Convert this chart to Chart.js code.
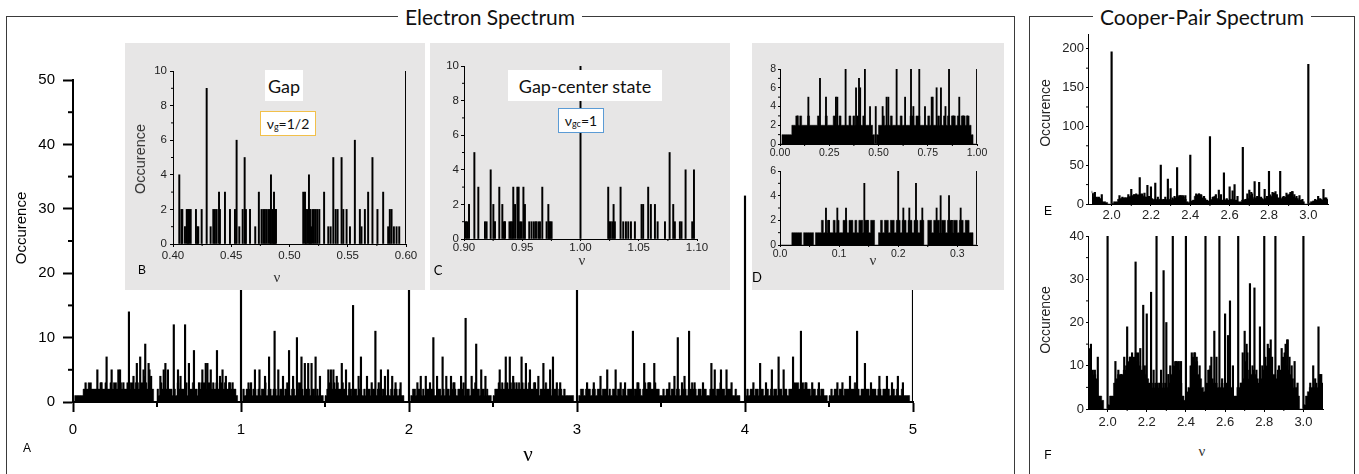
<!DOCTYPE html>
<html>
<head>
<meta charset="utf-8">
<script src="https://cdn.jsdelivr.net/npm/chart.js@4.4.1/dist/chart.umd.min.js"></script>
<style>
  body { margin: 0; background: #fff; width: 1359px; height: 474px; overflow: hidden; position: relative;
         font-family: "Liberation Sans", Arial, sans-serif; color: #000; }
  canvas { position: absolute; }
  .frame { position: absolute; border: 1px solid #3a3a3a; border-bottom: none; }
  .ftitle { position: absolute; background: #fff; padding: 0 7px; font-family: Lato, "Open Sans", sans-serif;
            font-size: 21px; line-height: 24px; transform: translate(-50%, -50%); white-space: nowrap; color: #111; }
  .inset { position: absolute; background: #e7e6e6; }
  .lbl { position: absolute; transform: translate(-50%, -50%); white-space: nowrap; }
  .rot { position: absolute; transform: translate(-50%, -50%) rotate(-90deg); white-space: nowrap; }
  .nu { font-family: "Liberation Serif", "DejaVu Serif", serif; }
  .note { position: absolute; background: #fff; font-family: Lato, "Open Sans", sans-serif; color: #111;
          display: flex; align-items: center; justify-content: center; box-sizing: border-box; }
  .note sub { font-size: 9px; position: relative; top: 3px; vertical-align: baseline; }
</style>
</head>
<body>
<div class="frame" style="left:6px;top:16px;width:1007px;height:470px"></div>
<div class="ftitle" style="left:490px;top:17px">Electron Spectrum</div>
<div class="frame" style="left:1029px;top:16px;width:324px;height:470px"></div>
<div class="ftitle" style="left:1202px;top:17px">Cooper-Pair Spectrum</div>

<canvas id="cMain" width="930" height="414" style="left:0;top:60px"></canvas>

<div class="inset" style="left:125px;top:43px;width:300px;height:247px"></div>
<div class="inset" style="left:430px;top:43px;width:300px;height:247px"></div>
<div class="inset" style="left:752px;top:43px;width:252px;height:247px"></div>

<canvas id="cGap" width="300" height="247" style="left:125px;top:43px"></canvas>
<canvas id="cCenter" width="300" height="247" style="left:430px;top:43px"></canvas>
<canvas id="cFull" width="252" height="107" style="left:752px;top:55px"></canvas>
<canvas id="cThird" width="252" height="110" style="left:752px;top:160px"></canvas>
<canvas id="cPairE" width="320" height="200" style="left:1030px;top:25px"></canvas>
<canvas id="cPairF" width="320" height="215" style="left:1030px;top:225px"></canvas>

<div class="note" style="left:265px;top:70px;width:38px;height:31px;font-size:18px">Gap</div>
<div class="note" style="left:260px;top:111px;width:56px;height:25px;border:1.5px solid #f2c04a;font-size:14px">ν<sub>g</sub>=1/2</div>
<div class="note" style="left:508px;top:70px;width:154px;height:31px;font-size:18px">Gap-center state</div>
<div class="note" style="left:558px;top:108px;width:46px;height:25px;border:1.5px solid #5b9bd5;font-size:14px">ν<sub>gc</sub>=1</div>

<div class="rot" style="left:20px;top:228px;font-size:15px">Occurence</div>
<div class="rot" style="left:140px;top:159px;font-size:14.5px;color:#333">Occurence</div>
<div class="rot" style="left:1045px;top:113px;font-size:14px;color:#222">Occurence</div>
<div class="rot" style="left:1045px;top:320px;font-size:14px;color:#222">Occurence</div>

<div class="lbl nu" style="left:528px;top:454px;font-size:21px">ν</div>
<div class="lbl nu" style="left:277px;top:277px;font-size:15px;color:#333">ν</div>
<div class="lbl nu" style="left:582px;top:260px;font-size:15px;color:#333">ν</div>
<div class="lbl nu" style="left:873px;top:260px;font-size:15px;color:#333">ν</div>
<div class="lbl nu" style="left:1202px;top:451px;font-size:15px;color:#333">ν</div>

<div class="lbl" style="left:27px;top:448px;font-size:12px">A</div>
<div class="lbl" style="left:142px;top:270px;font-size:12px">B</div>
<div class="lbl" style="left:438px;top:270px;font-size:13px;font-family:Lato,sans-serif">C</div>
<div class="lbl" style="left:757px;top:277px;font-size:13px;font-family:Lato,sans-serif">D</div>
<div class="lbl" style="left:1048px;top:211px;font-size:12px">E</div>
<div class="lbl" style="left:1048px;top:455px;font-size:12px">F</div>

<script>
// ---- panel A : electron spectrum, 0 <= nu <= 5, bins of 0.01 ----
const mainBaseStart = 0;
const mainBaseStep = 0.01;
const mainBase = [
  0,0,1,1,1,1,1,2,3,2, 3,3,2,2,2,2,2,3,2,2, 3,2,2,3,2,3,3,2,2,3, 2,2,2,3,2,3,3,2,3,3, 2,3,3,4,3,2,3,2,2,0,
  0,2,1,3,2,2,2,1,2,2, 1,2,1,3,2,2,2,2,3,1, 2,2,3,2,2,1,2,3,3,3, 2,3,3,2,3,2,3,2,3,3, 2,3,2,2,3,2,2,2,1,0,
  0,0,2,1,2,3,2,1,2,2, 1,2,1,2,2,3,1,2,2,1, 2,2,1,1,2,2,1,2,3,2, 1,2,2,1,2,3,3,2,1,2, 2,2,1,2,2,1,2,1,1,1,
  0,1,2,3,3,2,3,2,3,2, 2,3,2,2,1,2,2,1,2,2, 1,2,2,1,2,1,2,2,1,2, 2,1,2,2,1,2,2,1,2,1, 2,1,2,2,1,2,1,1,0,0,
  0,0,1,2,2,1,2,2,1,2, 1,2,2,1,2,2,1,1,2,2, 1,2,1,2,2,1,2,3,2,1, 2,2,2,3,1,2,2,1,2,2, 3,2,2,1,2,2,1,2,1,1,
  0,1,2,2,3,2,3,2,3,3, 2,3,2,3,2,2,3,2,3,2, 3,2,3,2,2,3,2,2,1,2, 2,2,3,2,2,1,2,2,2,1, 2,2,1,2,1,1,1,1,1,0,
  0,0,1,2,2,1,2,2,2,1, 2,2,1,2,2,1,2,2,2,1, 2,1,2,2,1,2,2,1,2,2, 1,2,2,2,1,2,2,3,2,1, 2,3,2,3,3,2,2,3,2,2,
  1,1,2,1,2,2,1,2,2,1, 2,2,1,2,2,2,1,2,2,3, 2,2,1,2,2,1,2,2,1,1, 2,2,2,1,2,2,3,2,2,1, 2,2,2,1,1,2,1,1,0,0,
  0,1,2,1,2,2,1,2,2,1, 2,2,1,2,2,1,2,1,2,2, 1,2,2,1,2,2,1,2,2,2, 3,3,3,2,3,3,2,3,2,2, 1,2,2,1,2,1,2,2,1,1,
  0,1,2,1,2,2,1,2,2,1, 2,2,2,1,2,2,3,2,2,1, 2,2,1,2,2,1,2,2,2,1, 2,2,1,2,2,1,2,1,2,2, 1,2,1,1,2,1,1,1,1,0
];
const mainSpikeNu = [
  0.145,0.17,0.20,0.23,0.27,0.28,0.30,0.333,0.36,0.38,0.40,0.42,0.43,0.45,0.455,0.465,
  0.52,0.54,0.55,0.565,0.60,0.625,0.64,0.667,0.69,0.72,0.75,0.77,0.79,0.80,0.82,0.857,0.875,0.89,0.91,0.93,0.95,1.0,
  1.06,1.083,1.11,1.143,1.167,1.20,1.222,1.25,1.286,1.31,1.333,1.36,1.38,1.40,1.42,1.444,1.47,
  1.52,1.535,1.55,1.57,1.60,1.625,1.645,1.667,1.70,1.714,1.75,1.778,1.80,1.82,1.833,1.857,1.875,1.90,1.92,1.95,2.0,
  2.05,2.07,2.10,2.125,2.145,2.167,2.20,2.222,2.25,2.27,2.31,2.337,2.373,2.40,2.43,2.455,
  2.54,2.576,2.60,2.62,2.64,2.67,2.696,2.72,2.75,2.77,2.80,2.84,2.857,2.88,2.90,3.0,
  3.06,3.10,3.14,3.18,3.23,3.26,3.286,3.333,3.36,3.40,3.43,3.46,
  3.55,3.58,3.60,3.625,3.64,3.667,3.70,3.75,3.80,3.82,3.857,3.89,3.92,4.0,
  4.05,4.09,4.125,4.16,4.20,4.23,4.286,4.333,4.36,4.40,4.44,
  4.55,4.58,4.625,4.667,4.714,4.75,4.80,4.845,4.875,4.91,4.94,5.0
];
const mainSpikeCount = [
  5,3,7,5,5,5,3,14,4,6,7,5,9,6,5,4,
  4,5,6,5,12,5,4,12,6,8,3,5,6,6,5,8,4,5,4,3,3,50,
  3,5,5,4,7,11,5,4,8,4,10,7,6,6,6,7,4,
  5,5,5,4,6,5,3,15,4,7,4,3,11,3,5,4,5,4,3,3,50,
  3,4,4,3,10,4,7,4,4,3,4,13,4,9,5,4,
  5,7,7,4,3,7,6,5,3,4,6,5,7,3,3,50,
  3,3,4,5,5,3,3,11,3,6,3,6,
  3,4,10,3,4,11,3,3,6,5,5,5,3,32,
  3,6,3,5,7,5,7,11,3,3,3,
  3,3,4,11,6,3,4,4,3,4,3,50
];
const mainNuTicks = [0, 1, 2, 3, 4, 5];
const mainCountTicks = [0, 10, 20, 30, 40, 50];

// ---- panel B : gap around nu = 1/2 ----
const gapNu = [
  0.4054,0.4072,0.4080,0.4103,0.4118,0.4129,0.4140,0.4152,0.4197,0.4209,0.4217,0.4246,0.4289,0.4323,
  0.4346,0.4360,0.4375,0.4395,0.4403,0.4446,0.4489,0.4532,0.4546,0.4569,0.4598,0.4615,0.4626,0.4661,
  0.4706,0.4737,0.4760,0.4775,0.4789,0.4803,0.4818,0.4832,0.4841,0.4852,0.4861,0.4867,0.4875,0.4884,
  0.5118,0.5133,0.5141,0.5153,0.5167,0.5176,0.5185,0.5196,0.5210,0.5225,0.5239,0.5256,0.5297,0.5333,
  0.5353,0.5376,0.5396,0.5413,0.5447,0.5462,0.5490,0.5519,0.5561,0.5604,0.5618,0.5647,0.5675,0.5712,
  0.5755,0.5804,0.5847,0.5861,0.5876,0.5896,0.5919,0.5942,0.6000
];
const gapCount = [
  4,2,2,1,2,2,2,2,2,1,1,2,9,1,
  2,2,2,3,2,3,2,2,6,1,2,5,2,2,
  1,3,2,2,2,2,2,2,4,2,2,3,2,2,
  3,3,2,2,4,2,1,2,2,2,2,2,3,1,
  1,5,2,2,5,2,2,1,6,2,1,2,3,5,
  2,3,1,2,2,1,1,1,10
];
const gapNuTicks = [0.40, 0.45, 0.50, 0.55, 0.60];
const gapCountTicks = [0, 2, 4, 6, 8, 10];

// ---- panel C : gap-center state nu = 1 ----
const centerNu = [
  0.9017,0.9029,0.9043,0.9089,0.9123,0.9180,0.9194,0.9229,0.9252,0.9266,0.9303,0.9329,0.9343,0.9352,
  0.9390,0.9403,0.9415,0.9423,0.9438,0.9458,0.9469,0.9481,0.9495,0.9510,0.9523,0.9560,0.9580,0.9600,
  0.9618,0.9638,0.9652,0.9672,0.9709,0.9724,0.9732,0.9741,0.9752,1.0000,
  1.0238,1.0247,1.0258,1.0273,1.0284,1.0295,1.0344,1.0367,1.0390,1.0410,1.0433,1.0467,1.0524,1.0538,
  1.0581,1.0604,1.0639,1.0662,1.0725,1.0765,1.0796,1.0810,1.0853,1.0867,1.0902,1.0959,1.0974
];
const centerCount = [
  1,1,2,5,3,1,1,4,2,1,3,2,1,1,
  1,1,1,3,2,3,3,1,1,3,2,1,1,1,
  1,1,1,3,1,2,1,1,1,10,
  3,1,1,1,2,1,3,1,1,1,1,1,2,2,
  3,2,2,1,1,5,2,1,1,1,4,1,4
];
const centerNuTicks = [0.90, 0.95, 1.00, 1.05, 1.10];
const centerCountTicks = [0, 2, 4, 6, 8, 10];

// ---- panel D top : 0 <= nu <= 1, bins of 0.01 ----
const fullBaseStart = 0;
const fullBaseStep = 0.01;
const fullBase = [
  0,0,1,1,1,1,1,2,2,3, 2,3,2,2,2,3,2,2,2,2, 3,2,2,2,3,2,2,2,3,2, 2,3,2,2,2,2,3,2,3,2, 3,2,2,3,2,2,2,2,1,0,
  1,2,2,3,2,2,2,3,2,2, 2,2,3,2,2,2,2,3,3,2, 3,3,2,2,2,2,3,2,2,2, 2,3,2,2,3,2,3,2,3,3, 2,3,2,3,3,2,3,2,1,0
];
const fullSpikeNu = [0.09,0.144,0.203,0.2335,0.284,0.291,0.333,0.386,0.401,0.407,0.431,0.457,0.486,0.521,0.541,0.55,
  0.592,0.635,0.665,0.677,0.707,0.736,0.77,0.775,0.795,0.817,0.84,0.858,0.88,0.91,0.93,0.95,1.0];
const fullSpikeCount = [3,5,7,5,5,5,8,6,7,6,8,4,4,4,5,5, 8,5,8,4,8,4,5,5,6,6,4,8,3,5,3,3,8];
const fullNuTicks = [0, 0.25, 0.5, 0.75, 1];
const fullCountTicks = [0, 2, 4, 6, 8];

// ---- panel D bottom : 0 <= nu <= 1/3, bins of 1/300 ----
const thirdBaseStart = 0;
const thirdBaseStep = 1 / 300;
const thirdBase = [
  0,0,0,0,0,0,0,1,1,1, 1,1,0,1,1,1,1,1,0,1, 1,1,2,1,1,2,1,1,2,1, 2,1,1,2,2,1,2,2,1,2, 1,2,2,1,2,2,1,2,2,0,
  0,1,2,1,2,2,1,2,2,1, 2,2,1,2,2,1,2,2,1,2, 2,1,2,2,0,0,2,2,1,2, 2,2,1,2,2,1,2,2,1,2, 2,1,2,2,1,2,2,1,1,0
];
const thirdSpikeNu = [0.0778,0.083,0.097,0.1117,0.1427,0.148,0.2,0.2087,0.2188,0.2301,0.2408,0.265,0.2718,0.286,0.291,0.3057,0.3333];
const thirdSpikeCount = [3,2,3,3,5,2,6,3,3,5,3,3,4,4,2,3,6];
const thirdNuTicks = [0, 0.1, 0.2, 0.3];
const thirdCountTicks = [0, 2, 4, 6];

// ---- panels E, F : Cooper-pair spectrum, bins of 0.01 from 1.9 ----
const pairBaseStart = 1.9;
const pairBaseStep = 0.01;
const pairBase = [
  17,14,9,9,8,7,3,3,2,0, 0,1,3,3,6,7,8,8,8,9, 10,11,12,12,12,13,11,10,9,9, 8,7,6,6,5,6,6,5,6,5,
  6,5,6,8,10,11,11,9,6,3, 2,4,5,10,12,13,11,8,7,5, 4,6,9,10,7,6,6,5,5,6, 5,6,6,5,5,3,3,5,5,6,
  7,11,9,7,8,9,8,7,6,7, 9,12,10,11,9,8,8,7,8,9, 12,13,10,9,8,7,5,5,3,0, 0,1,3,4,5,5,5,6,5,6
];
const pairSpikeNu = [
  1.915,1.935,1.95,2.0,2.04,2.055,2.07,2.085,2.1,2.115,2.125,2.135,2.143,2.155,2.167,2.182,2.19,2.2,2.222,
  2.235,2.25,2.265,2.273,2.286,2.3,2.31,2.32,2.333,2.35,2.364,2.375,2.4,2.42,2.43,2.444,2.455,2.47,2.5,
  2.52,2.53,2.545,2.556,2.571,2.585,2.6,2.615,2.625,2.64,2.667,2.68,2.69,2.7,2.71,2.714,2.727,2.74,2.75,
  2.76,2.778,2.79,2.8,2.818,2.825,2.833,2.84,2.857,2.87,2.875,2.889,2.895,2.909,2.917,2.92,2.929,2.94,
  2.955,2.97,3.0,3.035,3.05,3.06,3.077,3.085,3.091
];
const pairSpikeCount = [
  15,9,12,196,11,9,8,12,19,12,13,11,34,13,14,24,10,22,27,
  9,50,6,9,32,20,8,10,47,11,11,11,63,4,13,13,12,10,87,
  9,12,18,12,40,7,22,17,25,10,73,6,13,18,15,13,29,10,28,
  9,19,10,42,15,14,16,12,42,9,10,14,9,15,16,16,12,10,
  11,6,180,6,10,7,19,8,8
];
const pairNuTicks = [2.0, 2.2, 2.4, 2.6, 2.8, 3.0];
const pairCountTicksE = [0, 50, 100, 150, 200];
const pairCountTicksF = [0, 10, 20, 30, 40];

Chart.defaults.font.family = '"Liberation Sans", Arial, sans-serif';
Chart.defaults.color = '#000';

// little midway tick marks between the labelled ones
const minorTicks = {
  id: 'minorTicks',
  afterDraw(chart, args, opts) {
    if (!opts || !opts.len) return;
    const ctx = chart.ctx;
    ctx.save();
    ctx.strokeStyle = '#000';
    ctx.lineWidth = opts.width;
    ['x', 'y'].forEach(id => {
      const s = chart.scales[id];
      const vals = s.ticks.map(t => t.value);
      for (let i = 0; i < vals.length - 1; i++) {
        const p = s.getPixelForValue((vals[i] + vals[i + 1]) / 2);
        ctx.beginPath();
        if (id === 'x') { ctx.moveTo(p, s.top); ctx.lineTo(p, s.top + opts.len); }
        else { ctx.moveTo(s.right - opts.len, p); ctx.lineTo(s.right, p); }
        ctx.stroke();
      }
    });
    ctx.restore();
  }
};

function binPoints(values, start, step) {
  const pts = values.map((v, i) => ({ x: start + i * step, y: v }));
  pts.push({ x: start + values.length * step, y: values[values.length - 1] });
  return pts;
}

function spikePoints(xs, ys) {
  return xs.map((x, i) => ({ x: x, y: ys[i] }));
}

function axis(o) {
  return {
    type: 'linear',
    min: o.min,
    max: o.max,
    offset: false,
    afterFit: s => { if (o.horiz) s.height = o.size; else s.width = o.size; },
    afterBuildTicks: s => { s.ticks = o.ticks.map(v => ({ value: v })); },
    border: { display: true, color: '#000', width: o.bw },
    grid: { display: true, drawOnChartArea: false, drawTicks: true, tickLength: o.tl,
            tickWidth: o.bw, color: '#000', offset: false },
    ticks: { padding: o.pad, font: { size: o.fs }, color: o.color || '#000', autoSkip: false, maxRotation: 0,
             callback: v => (o.fmt ? Number(v).toFixed(o.fmt) : v) }
  };
}

function histChart(id, c) {
  const datasets = [{
    type: 'bar', data: c.spikes, backgroundColor: '#000', barThickness: c.bt, clip: 0, grouped: false
  }];
  if (c.base) {
    datasets.push({
      type: 'line', data: c.base, stepped: 'after', fill: 'origin', backgroundColor: '#000',
      borderColor: '#000', borderWidth: 0.5, pointRadius: 0, clip: 0
    });
  }
  new Chart(document.getElementById(id), {
    type: 'bar',
    data: { datasets: datasets },
    options: {
      responsive: false,
      animation: false,
      events: [],
      layout: { padding: c.pad },
      plugins: { legend: { display: false }, tooltip: { enabled: false }, minorTicks: c.minor },
      scales: { x: axis(c.x), y: axis(c.y) }
    },
    plugins: [minorTicks]
  });
}

// A
histChart('cMain', {
  base: binPoints(mainBase, mainBaseStart, mainBaseStep),
  spikes: spikePoints(mainSpikeNu, mainSpikeCount),
  bt: 1.5,
  pad: { top: 20, right: 17, left: 0, bottom: 0 },
  minor: { len: 5, width: 2 },
  x: { horiz: true, min: 0, max: 5, ticks: mainNuTicks, size: 72, tl: 10, bw: 2, pad: 9, fs: 15 },
  y: { min: 0, max: 50, ticks: mainCountTicks, size: 73, tl: 10, bw: 2, pad: 8, fs: 15 }
});

// B
histChart('cGap', {
  spikes: spikePoints(gapNu, gapCount),
  bt: 1.3,
  pad: { top: 28, right: 19, left: 0, bottom: 0 },
  minor: { len: 2, width: 1 },
  x: { horiz: true, min: 0.4, max: 0.6, ticks: gapNuTicks, fmt: 2, size: 46, tl: 3, bw: 1, pad: 2, fs: 11.5, color: '#222' },
  y: { min: 0, max: 10, ticks: gapCountTicks, size: 48, tl: 3, bw: 1, pad: 3, fs: 11.5, color: '#222' }
});

// C
histChart('cCenter', {
  spikes: spikePoints(centerNu, centerCount),
  bt: 1.3,
  pad: { top: 23, right: 33, left: 0, bottom: 0 },
  minor: { len: 2, width: 1 },
  x: { horiz: true, min: 0.9, max: 1.1, ticks: centerNuTicks, fmt: 2, size: 51, tl: 2, bw: 1, pad: 0, fs: 11.5, color: '#222' },
  y: { min: 0, max: 10, ticks: centerCountTicks, size: 34, tl: 3, bw: 1, pad: 2, fs: 11.5, color: '#222' }
});

// D top
histChart('cFull', {
  base: binPoints(fullBase, fullBaseStart, fullBaseStep),
  spikes: spikePoints(fullSpikeNu, fullSpikeCount),
  bt: 1.2,
  pad: { top: 14, right: 27, left: 0, bottom: 0 },
  minor: { len: 2, width: 1 },
  x: { horiz: true, min: 0, max: 1, ticks: fullNuTicks, fmt: 2, size: 18, tl: 2, bw: 1, pad: 1, fs: 10.5, color: '#222' },
  y: { min: 0, max: 8, ticks: fullCountTicks, size: 28, tl: 2, bw: 1, pad: 2, fs: 10.5, color: '#222' }
});

// D bottom
histChart('cThird', {
  base: binPoints(thirdBase, thirdBaseStart, thirdBaseStep),
  spikes: spikePoints(thirdSpikeNu, thirdSpikeCount),
  bt: 1.2,
  pad: { top: 11, right: 27, left: 0, bottom: 0 },
  minor: { len: 2, width: 1 },
  x: { horiz: true, min: 0, max: 1 / 3, ticks: thirdNuTicks, fmt: 1, size: 25, tl: 2, bw: 1, pad: 1, fs: 10.5, color: '#222' },
  y: { min: 0, max: 6, ticks: thirdCountTicks, size: 28, tl: 2, bw: 1, pad: 2, fs: 10.5, color: '#222' }
});

// E
histChart('cPairE', {
  base: binPoints(pairBase, pairBaseStart, pairBaseStep),
  spikes: spikePoints(pairSpikeNu, pairSpikeCount),
  bt: 1.5,
  pad: { top: 8, right: 22, left: 0, bottom: 0 },
  minor: { len: 2, width: 1 },
  x: { horiz: true, min: 1.88, max: 3.1, ticks: pairNuTicks, fmt: 1, size: 21, tl: 2, bw: 1, pad: 2, fs: 13, color: '#222' },
  y: { min: 0, max: 218, ticks: pairCountTicksE, size: 58, tl: 2, bw: 1, pad: 2, fs: 13, color: '#222' }
});

// F
histChart('cPairF', {
  base: binPoints(pairBase, pairBaseStart, pairBaseStep),
  spikes: spikePoints(pairSpikeNu, pairSpikeCount),
  bt: 1.5,
  pad: { top: 11, right: 27, left: 0, bottom: 0 },
  minor: { len: 2, width: 1 },
  x: { horiz: true, min: 1.9, max: 3.1, ticks: pairNuTicks, fmt: 1, size: 31, tl: 3, bw: 1, pad: 3, fs: 13, color: '#222' },
  y: { min: 0, max: 40, ticks: pairCountTicksF, size: 58, tl: 2, bw: 1, pad: 2, fs: 13, color: '#222' }
});
</script>
</body>
</html>
